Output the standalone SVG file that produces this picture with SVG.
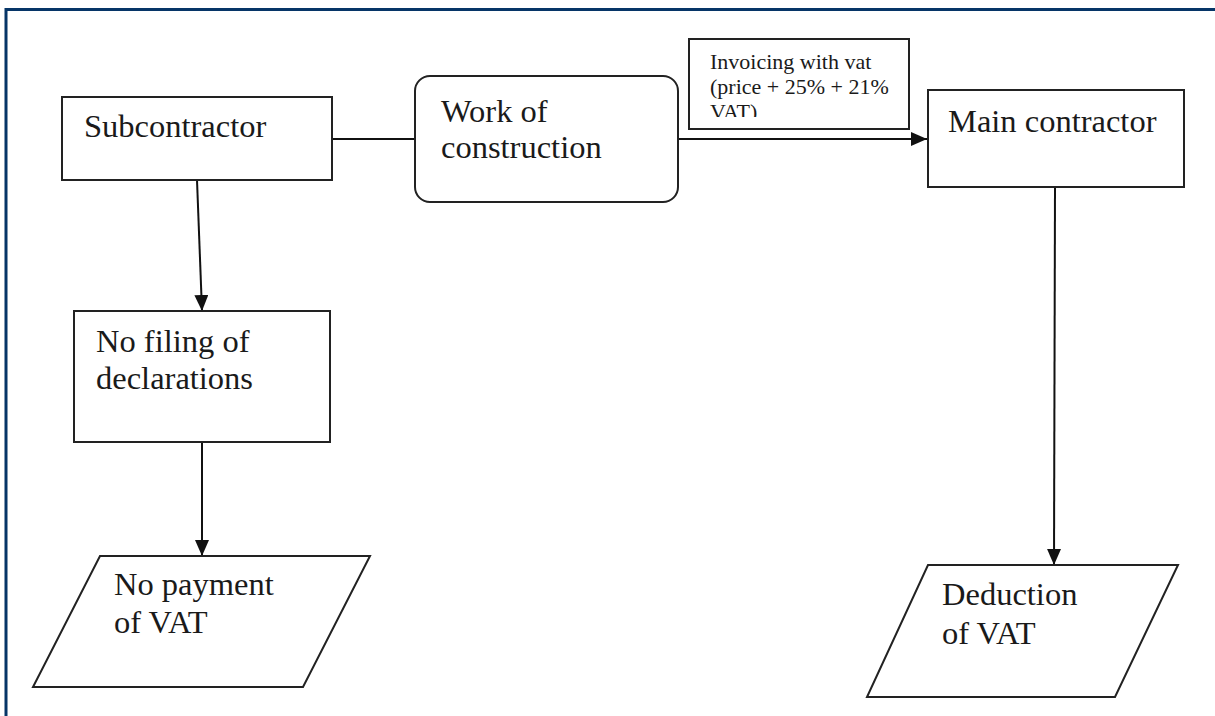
<svg xmlns="http://www.w3.org/2000/svg" width="1215" height="716" viewBox="0 0 1215 716">
<defs>
<marker id="arr" markerWidth="16" markerHeight="14" refX="16" refY="7" orient="auto" markerUnits="userSpaceOnUse">
<path d="M0,0 L16,7 L0,14 Z" fill="#111"/>
</marker>
<clipPath id="invclip"><rect x="689" y="39" width="220" height="78"/></clipPath>
<style>
.box{fill:#fff;stroke:#222;stroke-width:2}
.t{font-family:"Liberation Serif","Times New Roman",serif;font-size:32.5px;fill:#1a1a1a}
.lbl{font-family:"Liberation Serif","Times New Roman",serif;font-size:22px;fill:#1a1a1a}
.c{fill:none;stroke:#111;stroke-width:2}
</style>
</defs>
<rect x="0" y="0" width="1215" height="716" fill="#fff"/>
<rect x="6" y="9.5" width="1230" height="730" fill="none" stroke="#063567" stroke-width="3"/>
<g id="connectors">
<line class="c" x1="332" y1="139" x2="415" y2="139"/>
<line class="c" x1="678" y1="139" x2="927" y2="139" marker-end="url(#arr)"/>
<line class="c" x1="197" y1="180" x2="202" y2="311" marker-end="url(#arr)"/>
<line class="c" x1="202" y1="442" x2="202" y2="556" marker-end="url(#arr)"/>
<line class="c" x1="1055" y1="187" x2="1054" y2="565" marker-end="url(#arr)"/>
</g>
<g id="subcontractor">
<rect class="box" x="62" y="97" width="270" height="83"/>
<text class="t" x="84" y="137">Subcontractor</text>
</g>
<g id="work">
<rect class="box" x="415" y="76" width="263" height="126" rx="15"/>
<text class="t" x="441" y="122">Work of</text>
<text class="t" x="441" y="158">construction</text>
</g>
<g id="invoice-label">
<rect class="box" x="689" y="39" width="220" height="90"/>
<g clip-path="url(#invclip)">
<text class="lbl" font-family="Liberation Serif, serif" x="710" y="69">Invoicing with vat</text>
<text class="lbl" font-family="Liberation Serif, serif" x="710" y="94">(price + 25% + 21%</text>
<text class="lbl" font-family="Liberation Serif, serif" x="710" y="119">VAT)</text>
</g>
</g>
<g id="main-contractor">
<rect class="box" x="928" y="90" width="256" height="97"/>
<text class="t" x="948" y="132">Main contractor</text>
</g>
<g id="no-filing">
<rect class="box" x="74" y="311" width="256" height="131"/>
<text class="t" x="96" y="352">No filing of</text>
<text class="t" x="96" y="389">declarations</text>
</g>
<g id="no-payment">
<polygon class="box" points="100,556 370,556 303,687 33,687"/>
<text class="t" x="114" y="595">No payment</text>
<text class="t" x="114" y="633">of VAT</text>
</g>
<g id="deduction">
<polygon class="box" points="928,565 1178,565 1115,697 867,697"/>
<text class="t" x="942" y="605">Deduction</text>
<text class="t" x="942" y="644">of VAT</text>
</g>
</svg>
